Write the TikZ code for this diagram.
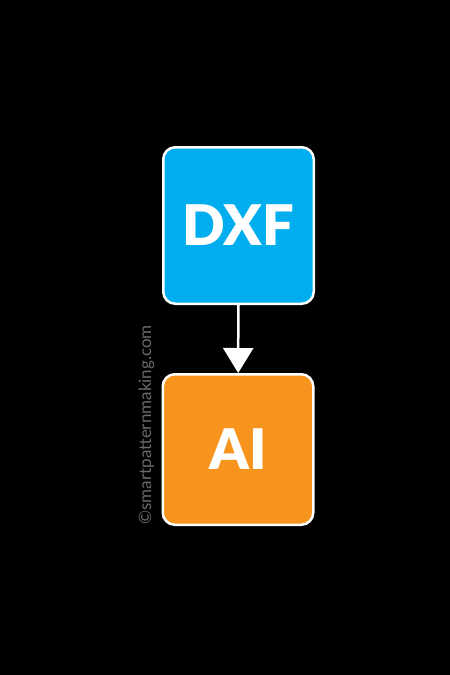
\documentclass[tikz,border=0pt]{standalone}
\usepackage{fontspec}
\setmainfont{Lato}[BoldFont={Lato Black}]
\usetikzlibrary{arrows.meta}
\definecolor{dxfblue}{HTML}{00AEEF}
\definecolor{aiorange}{HTML}{F7941D}
\definecolor{markgray}{HTML}{6A6A6A}
\begin{document}
\begin{tikzpicture}
[x=1pt,y=-1pt,
  boxdecorate/.style={shape=rectangle,rounded corners=12pt,draw=white,line width=2.5pt,
    text=white,font=\bfseries\fontsize{56}{56}\selectfont,minimum width=150.5pt},%
  linedecorate/.style={draw=white,line width=2.5pt,-{Triangle[width=30pt,length=25pt]}}]
% background
\fill[black] (0,0) rectangle (450,675);
\useasboundingbox (0,0) rectangle (450,675);
% nodes
\node (dxf) at (238.5,225.5) [boxdecorate,fill=dxfblue,minimum height=156.5pt] {DXF};
\node (ai) at (238,449.5) [boxdecorate,fill=aiorange,minimum height=150.5pt] {AI};
\node (mark) at (146.5,425) [rotate=90,text=markgray,font=\fontsize{17}{17}\selectfont] {©smartpatternmaking.com};
% edges
\path
(dxf) edge[linedecorate] (ai);
\end{tikzpicture}
\end{document}
